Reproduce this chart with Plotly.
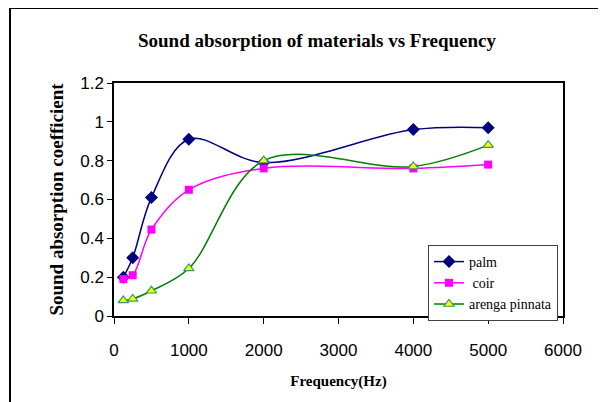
import plotly.graph_objects as go

freq = [125, 250, 500, 1000, 2000, 4000, 5000]
palm = [0.20, 0.30, 0.61, 0.91, 0.79, 0.96, 0.97]
coir = [0.19, 0.21, 0.445, 0.65, 0.76, 0.76, 0.78]
arenga = [0.08, 0.088, 0.13, 0.245, 0.80, 0.77, 0.88]

OFF = 8  # page body margin
W, H = 606 - OFF, 402 - OFF
# reference pixel positions of the plot area
RL, RR, RT, RB = 114, 563, 83, 316
L, R, T, B = RL - OFF, W - (RR - OFF), RT - OFF, H - (RB - OFF)
pw, ph = W - L - R, H - T - B

def px(xp):
    return (xp - OFF - L) / pw

def py(yp):
    return (H - B - (yp - OFF)) / ph

fig = go.Figure()
fig.add_trace(go.Scatter(x=freq, y=palm, name="palm", mode="lines+markers",
                         line=dict(color="#000080", width=1.5, shape="spline", smoothing=1),
                         marker=dict(symbol="diamond", size=10, color="#000080")))
fig.add_trace(go.Scatter(x=freq, y=coir, name=" coir", mode="lines+markers",
                         line=dict(color="#FF00FF", width=1.5, shape="spline", smoothing=1),
                         marker=dict(symbol="square", size=8, color="#FF00FF")))
fig.add_trace(go.Scatter(x=freq, y=arenga, name="arenga pinnata", mode="lines+markers",
                         line=dict(color="#008000", width=1.5, shape="spline", smoothing=1),
                         marker=dict(symbol="triangle-up", size=9, color="#FFFF00",
                                     line=dict(color="#339966", width=1.2))))

fig.update_layout(
    width=W, height=H,
    margin=dict(l=L, r=R, t=T, b=B),
    paper_bgcolor="white", plot_bgcolor="white",
    title=dict(text="<b>Sound absorption of materials vs Frequency</b>",
               x=(317 - OFF) / W, xanchor="center", y=1 - (40 - OFF) / H, yanchor="middle",
               font=dict(family="Liberation Serif", size=19, color="black")),
    xaxis=dict(range=[0, 6000], tickvals=[0, 1000, 2000, 3000, 4000, 5000, 6000],
               showgrid=False, zeroline=False, showline=True, linecolor="black", linewidth=1.5,
               mirror=True, ticks="outside", ticklen=6, tickcolor="black",
               ticklabelstandoff=12,
               tickfont=dict(family="Liberation Sans", size=17, color="black"),
               title=dict(text="<b>Frequency(Hz)</b>", standoff=16,
                          font=dict(family="Liberation Serif", size=15, color="black"))),
    yaxis=dict(range=[0, 1.2], tickvals=[0, 0.2, 0.4, 0.6, 0.8, 1, 1.2],
               ticktext=["0", "0.2", "0.4", "0.6", "0.8", "1", "1.2"],
               showgrid=False, zeroline=False, showline=True, linecolor="black", linewidth=1.5,
               mirror=True, ticks="outside", ticklen=5, tickcolor="black",
               tickfont=dict(family="Liberation Sans", size=17, color="black"),
               title=dict(text="<b>Sound absorption coefficient</b>", standoff=12,
                          font=dict(family="Liberation Serif", size=19, color="black"))),
    legend=dict(x=px(428), y=py(245), xanchor="left", yanchor="top",
                bgcolor="white", bordercolor="#404040", borderwidth=1,
                font=dict(family="Liberation Serif", size=14, color="black"),
                tracegroupgap=0, itemwidth=30),
    showlegend=True,
    shapes=[
        dict(type="line", xref="paper", yref="paper", x0=px(10), x1=px(620), y0=py(8), y1=py(8),
             line=dict(color="black", width=2)),
        dict(type="line", xref="paper", yref="paper", x0=px(10), x1=px(10), y0=py(8), y1=py(420),
             line=dict(color="black", width=2)),
    ],
)

fig.write_html("out.html")
